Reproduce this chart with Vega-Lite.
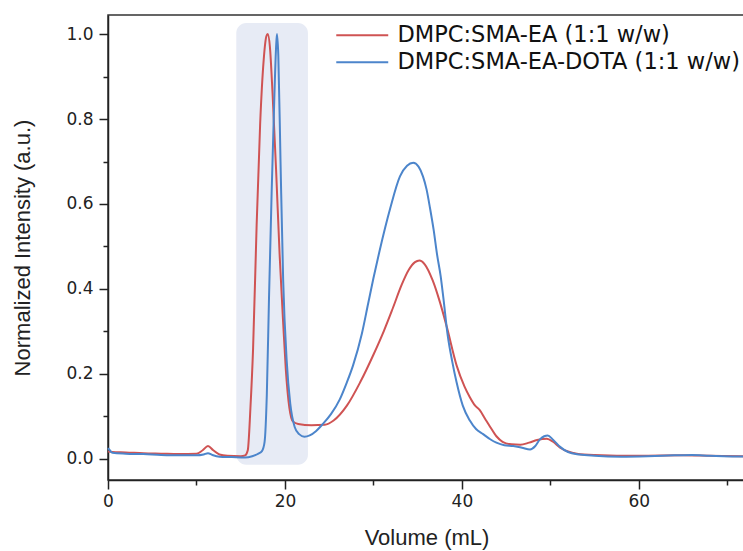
{
  "$schema": "https://vega.github.io/schema/vega-lite/v6.json",
  "width": 637,
  "height": 465,
  "autosize": {"type": "none"},
  "padding": {"left": 108, "top": 15, "right": 0, "bottom": 71},
  "config": {
    "view": {"stroke": "#333", "strokeWidth": 1.5},
    "font": "DejaVu Sans"
  },
  "datasets": {
    "band": [{"volume": 14.5, "volume2": 22.6, "intensity": -0.014, "intensity2": 1.026}],
    "traces": [
      {"sample": "DMPC:SMA-EA (1:1 w/w)", "volume": 0, "intensity": 0.017},
      {"sample": "DMPC:SMA-EA (1:1 w/w)", "volume": 0.5, "intensity": 0.016},
      {"sample": "DMPC:SMA-EA (1:1 w/w)", "volume": 2, "intensity": 0.015},
      {"sample": "DMPC:SMA-EA (1:1 w/w)", "volume": 4, "intensity": 0.013},
      {"sample": "DMPC:SMA-EA (1:1 w/w)", "volume": 6, "intensity": 0.012},
      {"sample": "DMPC:SMA-EA (1:1 w/w)", "volume": 8, "intensity": 0.011},
      {"sample": "DMPC:SMA-EA (1:1 w/w)", "volume": 10, "intensity": 0.012},
      {"sample": "DMPC:SMA-EA (1:1 w/w)", "volume": 10.7, "intensity": 0.02},
      {"sample": "DMPC:SMA-EA (1:1 w/w)", "volume": 11.3, "intensity": 0.03},
      {"sample": "DMPC:SMA-EA (1:1 w/w)", "volume": 11.9, "intensity": 0.02},
      {"sample": "DMPC:SMA-EA (1:1 w/w)", "volume": 12.6, "intensity": 0.01},
      {"sample": "DMPC:SMA-EA (1:1 w/w)", "volume": 13.5, "intensity": 0.007},
      {"sample": "DMPC:SMA-EA (1:1 w/w)", "volume": 15, "intensity": 0.006},
      {"sample": "DMPC:SMA-EA (1:1 w/w)", "volume": 15.5, "intensity": 0.008},
      {"sample": "DMPC:SMA-EA (1:1 w/w)", "volume": 15.8, "intensity": 0.02},
      {"sample": "DMPC:SMA-EA (1:1 w/w)", "volume": 16.1, "intensity": 0.12},
      {"sample": "DMPC:SMA-EA (1:1 w/w)", "volume": 16.4, "intensity": 0.26},
      {"sample": "DMPC:SMA-EA (1:1 w/w)", "volume": 16.8, "intensity": 0.55},
      {"sample": "DMPC:SMA-EA (1:1 w/w)", "volume": 17.2, "intensity": 0.79},
      {"sample": "DMPC:SMA-EA (1:1 w/w)", "volume": 17.6, "intensity": 0.94},
      {"sample": "DMPC:SMA-EA (1:1 w/w)", "volume": 17.9, "intensity": 0.995},
      {"sample": "DMPC:SMA-EA (1:1 w/w)", "volume": 18.05, "intensity": 1.0},
      {"sample": "DMPC:SMA-EA (1:1 w/w)", "volume": 18.3, "intensity": 0.97},
      {"sample": "DMPC:SMA-EA (1:1 w/w)", "volume": 18.6, "intensity": 0.86},
      {"sample": "DMPC:SMA-EA (1:1 w/w)", "volume": 19.0, "intensity": 0.68},
      {"sample": "DMPC:SMA-EA (1:1 w/w)", "volume": 19.4, "intensity": 0.48},
      {"sample": "DMPC:SMA-EA (1:1 w/w)", "volume": 19.8, "intensity": 0.32},
      {"sample": "DMPC:SMA-EA (1:1 w/w)", "volume": 20.1, "intensity": 0.21},
      {"sample": "DMPC:SMA-EA (1:1 w/w)", "volume": 20.5, "intensity": 0.12},
      {"sample": "DMPC:SMA-EA (1:1 w/w)", "volume": 20.9, "intensity": 0.088},
      {"sample": "DMPC:SMA-EA (1:1 w/w)", "volume": 21.5, "intensity": 0.082},
      {"sample": "DMPC:SMA-EA (1:1 w/w)", "volume": 23, "intensity": 0.079},
      {"sample": "DMPC:SMA-EA (1:1 w/w)", "volume": 24.5, "intensity": 0.08},
      {"sample": "DMPC:SMA-EA (1:1 w/w)", "volume": 25.5, "intensity": 0.09},
      {"sample": "DMPC:SMA-EA (1:1 w/w)", "volume": 27, "intensity": 0.125},
      {"sample": "DMPC:SMA-EA (1:1 w/w)", "volume": 28.5, "intensity": 0.18},
      {"sample": "DMPC:SMA-EA (1:1 w/w)", "volume": 30, "intensity": 0.245},
      {"sample": "DMPC:SMA-EA (1:1 w/w)", "volume": 31.2, "intensity": 0.302},
      {"sample": "DMPC:SMA-EA (1:1 w/w)", "volume": 32.2, "intensity": 0.355},
      {"sample": "DMPC:SMA-EA (1:1 w/w)", "volume": 33.2, "intensity": 0.41},
      {"sample": "DMPC:SMA-EA (1:1 w/w)", "volume": 34.0, "intensity": 0.445},
      {"sample": "DMPC:SMA-EA (1:1 w/w)", "volume": 34.7, "intensity": 0.463},
      {"sample": "DMPC:SMA-EA (1:1 w/w)", "volume": 35.2, "intensity": 0.467},
      {"sample": "DMPC:SMA-EA (1:1 w/w)", "volume": 35.8, "intensity": 0.458},
      {"sample": "DMPC:SMA-EA (1:1 w/w)", "volume": 36.7, "intensity": 0.42},
      {"sample": "DMPC:SMA-EA (1:1 w/w)", "volume": 37.5, "intensity": 0.37},
      {"sample": "DMPC:SMA-EA (1:1 w/w)", "volume": 38.3, "intensity": 0.31},
      {"sample": "DMPC:SMA-EA (1:1 w/w)", "volume": 39.4, "intensity": 0.22},
      {"sample": "DMPC:SMA-EA (1:1 w/w)", "volume": 40.3, "intensity": 0.17},
      {"sample": "DMPC:SMA-EA (1:1 w/w)", "volume": 40.9, "intensity": 0.145},
      {"sample": "DMPC:SMA-EA (1:1 w/w)", "volume": 41.5, "intensity": 0.125},
      {"sample": "DMPC:SMA-EA (1:1 w/w)", "volume": 42.0, "intensity": 0.115},
      {"sample": "DMPC:SMA-EA (1:1 w/w)", "volume": 42.6, "intensity": 0.095},
      {"sample": "DMPC:SMA-EA (1:1 w/w)", "volume": 43.2, "intensity": 0.075},
      {"sample": "DMPC:SMA-EA (1:1 w/w)", "volume": 43.9, "intensity": 0.053},
      {"sample": "DMPC:SMA-EA (1:1 w/w)", "volume": 44.6, "intensity": 0.04},
      {"sample": "DMPC:SMA-EA (1:1 w/w)", "volume": 45.6, "intensity": 0.034},
      {"sample": "DMPC:SMA-EA (1:1 w/w)", "volume": 46.6, "intensity": 0.033},
      {"sample": "DMPC:SMA-EA (1:1 w/w)", "volume": 47.6, "intensity": 0.038},
      {"sample": "DMPC:SMA-EA (1:1 w/w)", "volume": 48.5, "intensity": 0.044},
      {"sample": "DMPC:SMA-EA (1:1 w/w)", "volume": 49.6, "intensity": 0.047},
      {"sample": "DMPC:SMA-EA (1:1 w/w)", "volume": 50.3, "intensity": 0.04},
      {"sample": "DMPC:SMA-EA (1:1 w/w)", "volume": 51.1, "intensity": 0.026},
      {"sample": "DMPC:SMA-EA (1:1 w/w)", "volume": 52, "intensity": 0.017},
      {"sample": "DMPC:SMA-EA (1:1 w/w)", "volume": 53, "intensity": 0.012},
      {"sample": "DMPC:SMA-EA (1:1 w/w)", "volume": 55, "intensity": 0.009},
      {"sample": "DMPC:SMA-EA (1:1 w/w)", "volume": 60, "intensity": 0.007},
      {"sample": "DMPC:SMA-EA (1:1 w/w)", "volume": 65, "intensity": 0.008},
      {"sample": "DMPC:SMA-EA (1:1 w/w)", "volume": 68, "intensity": 0.007},
      {"sample": "DMPC:SMA-EA (1:1 w/w)", "volume": 72, "intensity": 0.006},
      {"sample": "DMPC:SMA-EA-DOTA (1:1 w/w)", "volume": 0, "intensity": 0.025},
      {"sample": "DMPC:SMA-EA-DOTA (1:1 w/w)", "volume": 0.2, "intensity": 0.02},
      {"sample": "DMPC:SMA-EA-DOTA (1:1 w/w)", "volume": 0.5, "intensity": 0.014},
      {"sample": "DMPC:SMA-EA-DOTA (1:1 w/w)", "volume": 2, "intensity": 0.012},
      {"sample": "DMPC:SMA-EA-DOTA (1:1 w/w)", "volume": 4, "intensity": 0.011},
      {"sample": "DMPC:SMA-EA-DOTA (1:1 w/w)", "volume": 6, "intensity": 0.009},
      {"sample": "DMPC:SMA-EA-DOTA (1:1 w/w)", "volume": 8, "intensity": 0.008},
      {"sample": "DMPC:SMA-EA-DOTA (1:1 w/w)", "volume": 10, "intensity": 0.008},
      {"sample": "DMPC:SMA-EA-DOTA (1:1 w/w)", "volume": 10.8, "intensity": 0.01},
      {"sample": "DMPC:SMA-EA-DOTA (1:1 w/w)", "volume": 11.3, "intensity": 0.013},
      {"sample": "DMPC:SMA-EA-DOTA (1:1 w/w)", "volume": 11.8, "intensity": 0.009},
      {"sample": "DMPC:SMA-EA-DOTA (1:1 w/w)", "volume": 12.6, "intensity": 0.005},
      {"sample": "DMPC:SMA-EA-DOTA (1:1 w/w)", "volume": 14, "intensity": 0.004},
      {"sample": "DMPC:SMA-EA-DOTA (1:1 w/w)", "volume": 15.5, "intensity": 0.003},
      {"sample": "DMPC:SMA-EA-DOTA (1:1 w/w)", "volume": 16.3, "intensity": 0.006},
      {"sample": "DMPC:SMA-EA-DOTA (1:1 w/w)", "volume": 17.0, "intensity": 0.012},
      {"sample": "DMPC:SMA-EA-DOTA (1:1 w/w)", "volume": 17.4, "intensity": 0.018},
      {"sample": "DMPC:SMA-EA-DOTA (1:1 w/w)", "volume": 17.7, "intensity": 0.04},
      {"sample": "DMPC:SMA-EA-DOTA (1:1 w/w)", "volume": 17.95, "intensity": 0.15},
      {"sample": "DMPC:SMA-EA-DOTA (1:1 w/w)", "volume": 18.2, "intensity": 0.38},
      {"sample": "DMPC:SMA-EA-DOTA (1:1 w/w)", "volume": 18.5, "intensity": 0.63},
      {"sample": "DMPC:SMA-EA-DOTA (1:1 w/w)", "volume": 18.8, "intensity": 0.85},
      {"sample": "DMPC:SMA-EA-DOTA (1:1 w/w)", "volume": 19.0, "intensity": 0.97},
      {"sample": "DMPC:SMA-EA-DOTA (1:1 w/w)", "volume": 19.1, "intensity": 1.0},
      {"sample": "DMPC:SMA-EA-DOTA (1:1 w/w)", "volume": 19.25, "intensity": 0.95},
      {"sample": "DMPC:SMA-EA-DOTA (1:1 w/w)", "volume": 19.5, "intensity": 0.7},
      {"sample": "DMPC:SMA-EA-DOTA (1:1 w/w)", "volume": 19.8, "intensity": 0.42},
      {"sample": "DMPC:SMA-EA-DOTA (1:1 w/w)", "volume": 20.2, "intensity": 0.23},
      {"sample": "DMPC:SMA-EA-DOTA (1:1 w/w)", "volume": 20.6, "intensity": 0.13},
      {"sample": "DMPC:SMA-EA-DOTA (1:1 w/w)", "volume": 21.1, "intensity": 0.075},
      {"sample": "DMPC:SMA-EA-DOTA (1:1 w/w)", "volume": 21.6, "intensity": 0.058},
      {"sample": "DMPC:SMA-EA-DOTA (1:1 w/w)", "volume": 22.2, "intensity": 0.052},
      {"sample": "DMPC:SMA-EA-DOTA (1:1 w/w)", "volume": 22.8, "intensity": 0.055},
      {"sample": "DMPC:SMA-EA-DOTA (1:1 w/w)", "volume": 23.5, "intensity": 0.065},
      {"sample": "DMPC:SMA-EA-DOTA (1:1 w/w)", "volume": 24.2, "intensity": 0.08},
      {"sample": "DMPC:SMA-EA-DOTA (1:1 w/w)", "volume": 25.2, "intensity": 0.105},
      {"sample": "DMPC:SMA-EA-DOTA (1:1 w/w)", "volume": 26.2, "intensity": 0.14},
      {"sample": "DMPC:SMA-EA-DOTA (1:1 w/w)", "volume": 27.0, "intensity": 0.18},
      {"sample": "DMPC:SMA-EA-DOTA (1:1 w/w)", "volume": 27.7, "intensity": 0.22},
      {"sample": "DMPC:SMA-EA-DOTA (1:1 w/w)", "volume": 28.7, "intensity": 0.295},
      {"sample": "DMPC:SMA-EA-DOTA (1:1 w/w)", "volume": 29.4, "intensity": 0.365},
      {"sample": "DMPC:SMA-EA-DOTA (1:1 w/w)", "volume": 30.0, "intensity": 0.425},
      {"sample": "DMPC:SMA-EA-DOTA (1:1 w/w)", "volume": 30.7, "intensity": 0.49},
      {"sample": "DMPC:SMA-EA-DOTA (1:1 w/w)", "volume": 31.9, "intensity": 0.59},
      {"sample": "DMPC:SMA-EA-DOTA (1:1 w/w)", "volume": 33.0, "intensity": 0.665},
      {"sample": "DMPC:SMA-EA-DOTA (1:1 w/w)", "volume": 33.8, "intensity": 0.69},
      {"sample": "DMPC:SMA-EA-DOTA (1:1 w/w)", "volume": 34.5, "intensity": 0.697},
      {"sample": "DMPC:SMA-EA-DOTA (1:1 w/w)", "volume": 35.1, "intensity": 0.688},
      {"sample": "DMPC:SMA-EA-DOTA (1:1 w/w)", "volume": 35.6, "intensity": 0.665},
      {"sample": "DMPC:SMA-EA-DOTA (1:1 w/w)", "volume": 36.0, "intensity": 0.635},
      {"sample": "DMPC:SMA-EA-DOTA (1:1 w/w)", "volume": 36.4, "intensity": 0.59},
      {"sample": "DMPC:SMA-EA-DOTA (1:1 w/w)", "volume": 36.8, "intensity": 0.54},
      {"sample": "DMPC:SMA-EA-DOTA (1:1 w/w)", "volume": 37.2, "intensity": 0.48},
      {"sample": "DMPC:SMA-EA-DOTA (1:1 w/w)", "volume": 37.6, "intensity": 0.43},
      {"sample": "DMPC:SMA-EA-DOTA (1:1 w/w)", "volume": 37.9, "intensity": 0.38},
      {"sample": "DMPC:SMA-EA-DOTA (1:1 w/w)", "volume": 38.4, "intensity": 0.29},
      {"sample": "DMPC:SMA-EA-DOTA (1:1 w/w)", "volume": 38.9, "intensity": 0.23},
      {"sample": "DMPC:SMA-EA-DOTA (1:1 w/w)", "volume": 39.4, "intensity": 0.18},
      {"sample": "DMPC:SMA-EA-DOTA (1:1 w/w)", "volume": 40.1, "intensity": 0.125},
      {"sample": "DMPC:SMA-EA-DOTA (1:1 w/w)", "volume": 40.9, "intensity": 0.09},
      {"sample": "DMPC:SMA-EA-DOTA (1:1 w/w)", "volume": 41.6, "intensity": 0.07},
      {"sample": "DMPC:SMA-EA-DOTA (1:1 w/w)", "volume": 42.4, "intensity": 0.058},
      {"sample": "DMPC:SMA-EA-DOTA (1:1 w/w)", "volume": 43.2, "intensity": 0.046},
      {"sample": "DMPC:SMA-EA-DOTA (1:1 w/w)", "volume": 43.9, "intensity": 0.038},
      {"sample": "DMPC:SMA-EA-DOTA (1:1 w/w)", "volume": 44.8, "intensity": 0.032},
      {"sample": "DMPC:SMA-EA-DOTA (1:1 w/w)", "volume": 45.8, "intensity": 0.03},
      {"sample": "DMPC:SMA-EA-DOTA (1:1 w/w)", "volume": 46.8, "intensity": 0.026},
      {"sample": "DMPC:SMA-EA-DOTA (1:1 w/w)", "volume": 47.7, "intensity": 0.022},
      {"sample": "DMPC:SMA-EA-DOTA (1:1 w/w)", "volume": 48.3, "intensity": 0.03},
      {"sample": "DMPC:SMA-EA-DOTA (1:1 w/w)", "volume": 48.8, "intensity": 0.045},
      {"sample": "DMPC:SMA-EA-DOTA (1:1 w/w)", "volume": 49.3, "intensity": 0.053},
      {"sample": "DMPC:SMA-EA-DOTA (1:1 w/w)", "volume": 49.7, "intensity": 0.055},
      {"sample": "DMPC:SMA-EA-DOTA (1:1 w/w)", "volume": 50.3, "intensity": 0.045},
      {"sample": "DMPC:SMA-EA-DOTA (1:1 w/w)", "volume": 51.1, "intensity": 0.028},
      {"sample": "DMPC:SMA-EA-DOTA (1:1 w/w)", "volume": 52, "intensity": 0.016},
      {"sample": "DMPC:SMA-EA-DOTA (1:1 w/w)", "volume": 53.3, "intensity": 0.01},
      {"sample": "DMPC:SMA-EA-DOTA (1:1 w/w)", "volume": 55, "intensity": 0.007},
      {"sample": "DMPC:SMA-EA-DOTA (1:1 w/w)", "volume": 58, "intensity": 0.005},
      {"sample": "DMPC:SMA-EA-DOTA (1:1 w/w)", "volume": 61, "intensity": 0.006},
      {"sample": "DMPC:SMA-EA-DOTA (1:1 w/w)", "volume": 64, "intensity": 0.008},
      {"sample": "DMPC:SMA-EA-DOTA (1:1 w/w)", "volume": 66, "intensity": 0.009},
      {"sample": "DMPC:SMA-EA-DOTA (1:1 w/w)", "volume": 68, "intensity": 0.007},
      {"sample": "DMPC:SMA-EA-DOTA (1:1 w/w)", "volume": 72, "intensity": 0.005}
    ]
  },
  "encoding": {
    "x": {
      "field": "volume",
      "type": "quantitative",
      "scale": {"domain": [0, 72], "nice": false, "zero": false},
      "axis": {
        "title": "Volume (mL)",
        "values": [0, 10, 20, 30, 40, 50, 60, 70],
        "labelExpr": "datum.value % 20 == 0 ? datum.label : ''",
        "grid": false,
        "domainColor": "#222",
        "domainWidth": 1.5,
        "tickColor": "#222",
        "tickWidth": 1.5,
        "tickSize": {"condition": {"test": "datum.value % 20 == 0", "value": 9}, "value": 5},
        "labelFont": "DejaVu Sans",
        "labelFontSize": 17,
        "labelColor": "#222",
        "labelPadding": 4,
        "labelFlush": false,
        "titleFont": "Liberation Sans",
        "titleFontSize": 22,
        "titleFontWeight": "normal",
        "titleColor": "#222",
        "titlePadding": 18
      }
    },
    "y": {
      "field": "intensity",
      "type": "quantitative",
      "scale": {"domain": [-0.05, 1.045], "nice": false, "zero": false},
      "axis": {
        "title": "Normalized Intensity (a.u.)",
        "values": [0, 0.1, 0.2, 0.3, 0.4, 0.5, 0.6, 0.7, 0.8, 0.9, 1.0],
        "format": ".1f",
        "labelExpr": "round(datum.value * 10) % 2 == 0 ? datum.label : ''",
        "grid": false,
        "domainColor": "#222",
        "domainWidth": 1.5,
        "tickColor": "#222",
        "tickWidth": 1.5,
        "tickSize": {"condition": {"test": "round(datum.value * 10) % 2 == 0", "value": 9}, "value": 5},
        "labelFont": "DejaVu Sans",
        "labelFontSize": 17,
        "labelColor": "#222",
        "labelPadding": 6,
        "titleFont": "Liberation Sans",
        "titleFontSize": 22,
        "titleFontWeight": "normal",
        "titleColor": "#222",
        "titlePadding": 31
      }
    }
  },
  "layer": [
    {
      "data": {"name": "band"},
      "mark": {"type": "rect", "fill": "#e7ebf5", "cornerRadius": 10},
      "encoding": {
        "x2": {"field": "volume2"},
        "y2": {"field": "intensity2"}
      }
    },
    {
      "data": {"name": "traces"},
      "mark": {"type": "line", "strokeWidth": 2, "interpolate": "monotone"},
      "encoding": {
        "color": {
          "field": "sample",
          "type": "nominal",
          "scale": {
            "domain": ["DMPC:SMA-EA (1:1 w/w)", "DMPC:SMA-EA-DOTA (1:1 w/w)"],
            "range": ["#cf5353", "#4c85cb"]
          },
          "legend": {
            "title": null,
            "orient": "none",
            "legendX": 243,
            "legendY": 9,
            "padding": 0,
            "symbolType": "M-5,0H5",
            "symbolSize": 108,
            "symbolStrokeWidth": 2,
            "labelFont": "DejaVu Sans",
            "labelFontSize": 22.5,
            "labelColor": "#111",
            "labelOffset": 24,
            "rowPadding": 4,
            "labelLimit": 500
          }
        }
      }
    }
  ]
}
